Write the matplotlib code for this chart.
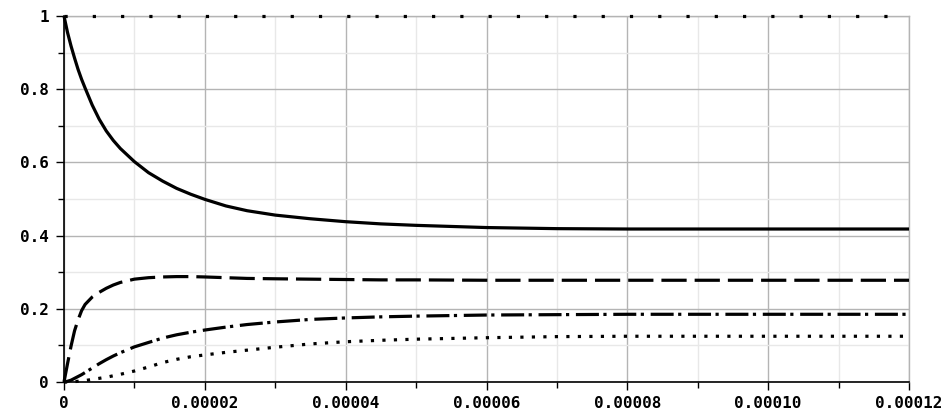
import matplotlib
matplotlib.use("Agg")
import matplotlib.pyplot as plt
from matplotlib.ticker import MultipleLocator, FuncFormatter

# time axis in microseconds (converted to seconds below)
t_us = [0, 0.5, 1, 1.5, 2, 2.5, 3, 4, 5, 6, 7, 8, 10, 12, 14, 16, 18, 20, 23, 26,
        30, 35, 40, 45, 50, 60, 70, 80, 90, 100, 110, 120]

solid = [1.0, 0.955, 0.918, 0.885, 0.854, 0.827, 0.803, 0.757, 0.718, 0.686,
         0.660, 0.638, 0.602, 0.572, 0.549, 0.529, 0.513, 0.499, 0.481, 0.468,
         0.456, 0.446, 0.438, 0.432, 0.428, 0.422, 0.419, 0.418, 0.418,
         0.418, 0.418, 0.418]

dashed = [0.0, 0.05, 0.098, 0.14, 0.17, 0.195, 0.212, 0.232, 0.245, 0.256,
          0.265, 0.272, 0.281, 0.285, 0.287, 0.288, 0.288, 0.287, 0.285, 0.283,
          0.282, 0.281, 0.280, 0.279, 0.279, 0.278, 0.278, 0.278, 0.278,
          0.278, 0.278, 0.278]

dashdot = [0.0, 0.002, 0.005, 0.010, 0.015, 0.020, 0.026, 0.038, 0.050, 0.061,
           0.071, 0.080, 0.096, 0.108, 0.120, 0.129, 0.136, 0.142, 0.150,
           0.157, 0.164, 0.171, 0.175, 0.178, 0.180, 0.183, 0.184, 0.185,
           0.185, 0.185, 0.185, 0.185]

dotted = [0.0, 0.0, 0.0005, 0.001, 0.002, 0.003, 0.004, 0.007, 0.010, 0.013,
          0.017, 0.021, 0.030, 0.041, 0.053, 0.062, 0.069, 0.074, 0.081, 0.087,
          0.095, 0.104, 0.110, 0.114, 0.117, 0.121, 0.124, 0.125, 0.125,
          0.125, 0.125, 0.125]

total = [1.0] * len(t_us)

t = [v * 1e-6 for v in t_us]

fig = plt.figure(figsize=(9.51, 4.15), dpi=100)
ax = fig.add_axes([64 / 951, 33 / 415, 845 / 951, 366 / 415])

lw = 2.3
ax.plot(t, total, color='black', lw=lw, linestyle=(0, (1, 7.85)), clip_on=False, zorder=5)
ax.plot(t, solid, color='black', lw=lw, solid_capstyle='butt', clip_on=False, zorder=5)
ax.plot(t, dashed, color='black', lw=lw, linestyle=(0, (7.9, 2.5)), clip_on=False, zorder=5)
ax.plot(t, dashdot, color='black', lw=lw, linestyle=(0, (7.2, 1.4, 1.0, 2.1)), clip_on=False, zorder=5)
ax.plot(t, dotted, color='black', lw=lw, linestyle=(0, (1, 2.6)), clip_on=False, zorder=5)

ax.set_xlim(0, 0.00012)
ax.set_ylim(0, 1)

ax.xaxis.set_major_locator(MultipleLocator(0.00002))
ax.xaxis.set_minor_locator(MultipleLocator(0.00001))
ax.yaxis.set_major_locator(MultipleLocator(0.2))
ax.yaxis.set_minor_locator(MultipleLocator(0.1))

ax.xaxis.set_major_formatter(FuncFormatter(lambda v, p: '0' if abs(v) < 1e-12 else f'{v:.5f}'))
ax.yaxis.set_major_formatter(FuncFormatter(lambda v, p: '0' if abs(v) < 1e-9 else ('1' if abs(v - 1) < 1e-9 else f'{v:.1f}')))

ax.grid(True, which='major', color='#b4b4b4', lw=1.0)
ax.grid(True, which='minor', color='#e8e8e8', lw=1.0)
ax.set_axisbelow(True)

for side in ('top', 'right'):
    ax.spines[side].set_color('#b4b4b4')
    ax.spines[side].set_linewidth(1.0)
for side in ('left', 'bottom'):
    ax.spines[side].set_color('black')
    ax.spines[side].set_linewidth(1.2)

ax.tick_params(which='major', length=6, width=1, color='black', direction='out')
ax.tick_params(which='minor', length=4, width=1, color='black', direction='out')
ax.tick_params(axis='x', pad=4)
ax.tick_params(axis='y', pad=5)

for lab in ax.get_xticklabels() + ax.get_yticklabels():
    lab.set_fontfamily('DejaVu Sans Mono')
    lab.set_fontweight('bold')
    lab.set_fontsize(11.5)

fig.savefig('out.png', dpi=100)
